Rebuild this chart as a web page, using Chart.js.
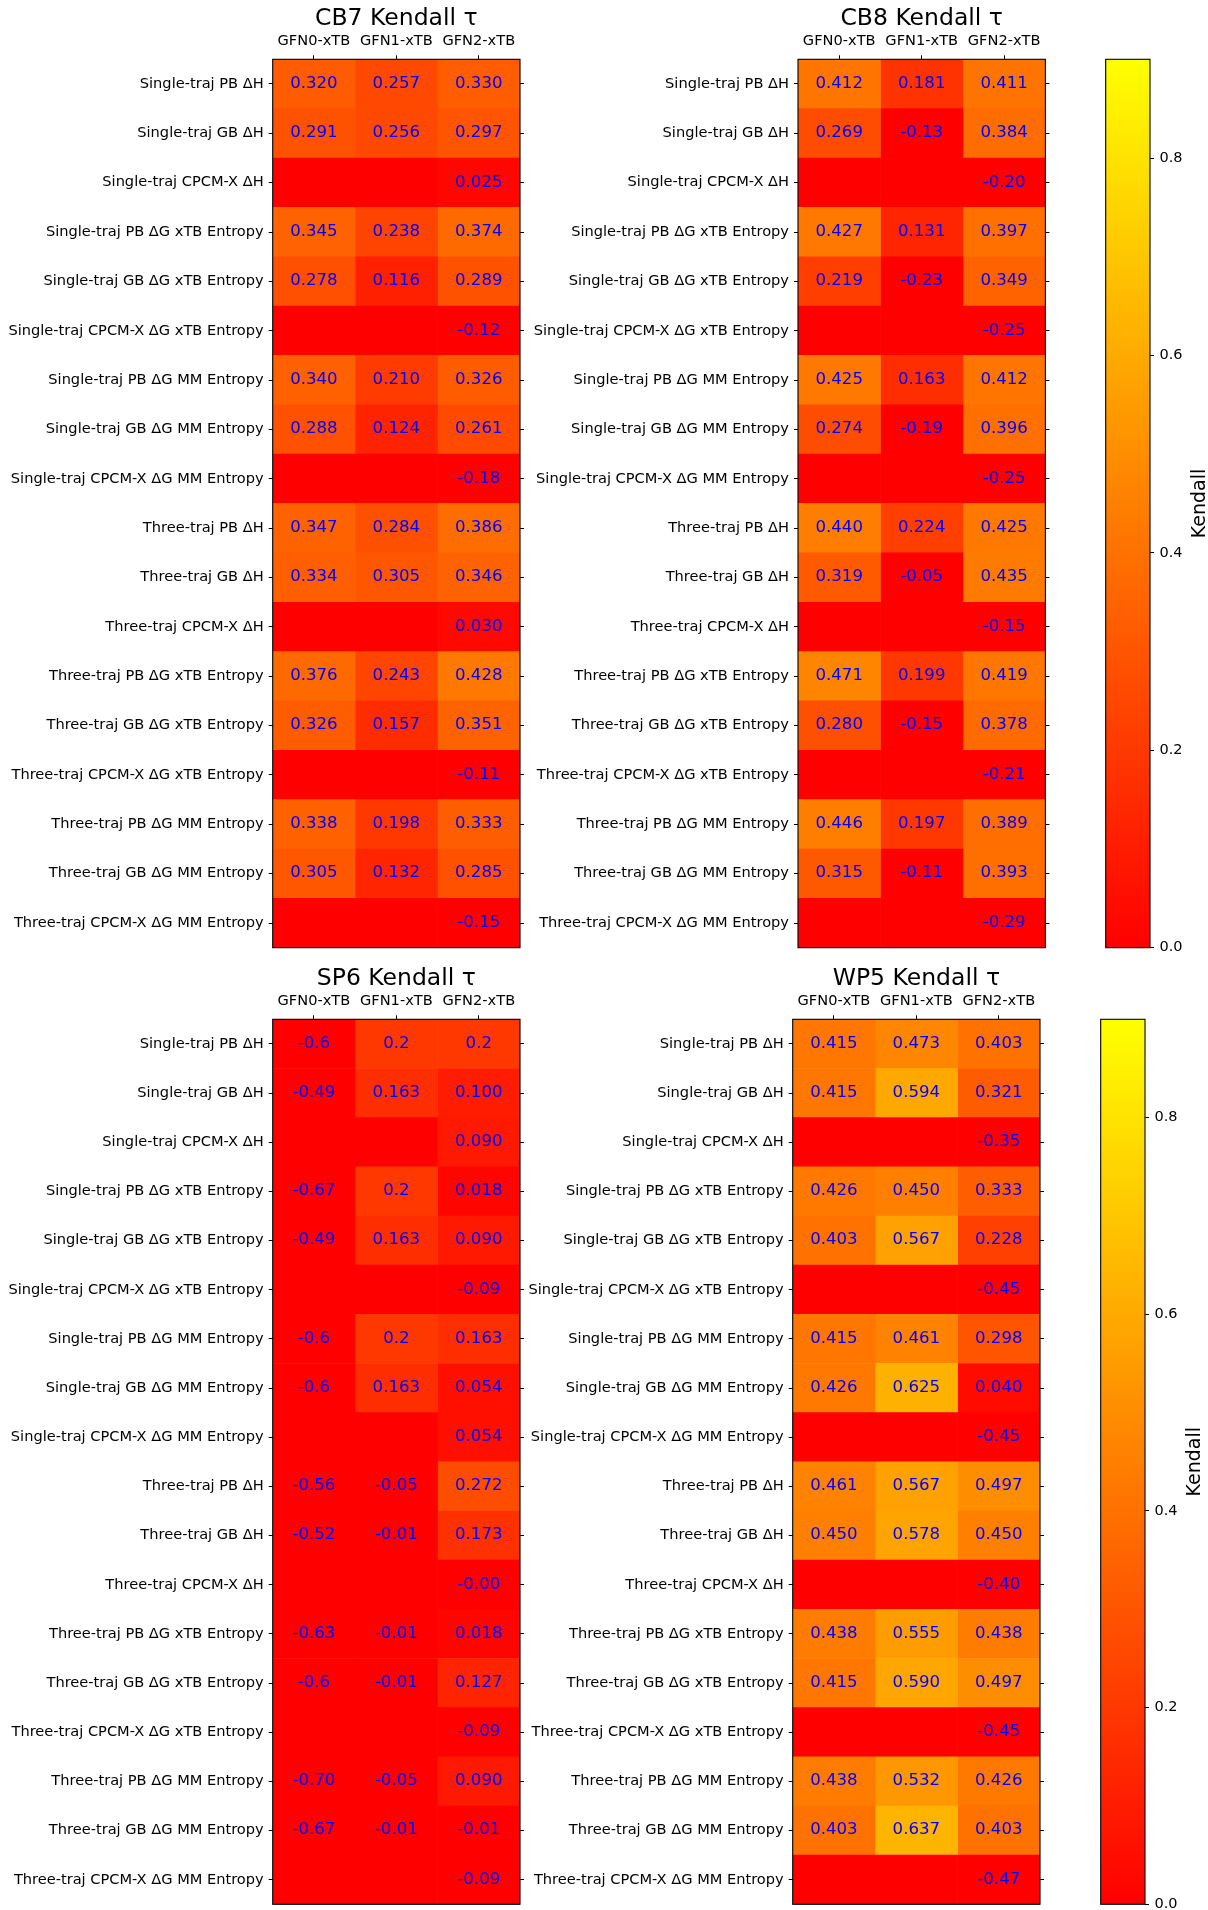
<!DOCTYPE html>
<html>
<head>
<meta charset="utf-8">
<script src="https://cdn.jsdelivr.net/npm/chart.js@4.4.1/dist/chart.umd.min.js"></script>
<style>
  html, body { margin: 0; padding: 0; background: #fff; width: 1208px; height: 1910px; overflow: hidden; }
  canvas { position: absolute; }
</style>
</head>
<body>
<canvas id="cb7" width="530" height="955" style="left:0px;top:0px"></canvas>
<canvas id="cb8" width="545" height="955" style="left:515px;top:0px"></canvas>
<canvas id="cbarTop" width="148" height="955" style="left:1060px;top:0px"></canvas>
<canvas id="sp6" width="530" height="955" style="left:0px;top:955px"></canvas>
<canvas id="wp5" width="545" height="955" style="left:515px;top:955px"></canvas>
<canvas id="cbarBottom" width="148" height="955" style="left:1060px;top:955px"></canvas>
<script>
// Row and column categories shared by all four hosts
const rowLabels = [
  'Single-traj PB ΔH',
  'Single-traj GB ΔH',
  'Single-traj CPCM-X ΔH',
  'Single-traj PB ΔG xTB Entropy',
  'Single-traj GB ΔG xTB Entropy',
  'Single-traj CPCM-X ΔG xTB Entropy',
  'Single-traj PB ΔG MM Entropy',
  'Single-traj GB ΔG MM Entropy',
  'Single-traj CPCM-X ΔG MM Entropy',
  'Three-traj PB ΔH',
  'Three-traj GB ΔH',
  'Three-traj CPCM-X ΔH',
  'Three-traj PB ΔG xTB Entropy',
  'Three-traj GB ΔG xTB Entropy',
  'Three-traj CPCM-X ΔG xTB Entropy',
  'Three-traj PB ΔG MM Entropy',
  'Three-traj GB ΔG MM Entropy',
  'Three-traj CPCM-X ΔG MM Entropy'
];
const methodLabels = ['GFN0-xTB', 'GFN1-xTB', 'GFN2-xTB'];

// Colour scale range and colorbar ticks
const colorMin = 0;
const colorMax = 0.9;
const colorbarTicks = [0, 0.2, 0.4, 0.6, 0.8];

// Kendall tau per host, one array per xTB method (null = not computed)
const cb7GFN0 = [0.3203, 0.291, null, 0.345, 0.278, null, 0.3402, 0.288, null, 0.347, 0.334, null, 0.376, 0.326, null, 0.338, 0.305, null];
const cb7GFN1 = [0.257, 0.256, null, 0.238, 0.116, null, 0.2104, 0.124, null, 0.284, 0.305, null, 0.243, 0.157, null, 0.198, 0.132, null];
const cb7GFN2 = [0.3301, 0.297, 0.025, 0.374, 0.289, -0.12, 0.326, 0.261, -0.18, 0.386, 0.346, 0.0303, 0.428, 0.351, -0.11, 0.333, 0.285, -0.15];

const cb8GFN0 = [0.412, 0.269, null, 0.427, 0.219, null, 0.425, 0.274, null, 0.4402, 0.319, null, 0.471, 0.2803, null, 0.446, 0.315, null];
const cb8GFN1 = [0.181, -0.13, null, 0.131, -0.23, null, 0.163, -0.19, null, 0.224, -0.05, null, 0.199, -0.15, null, 0.197, -0.11, null];
const cb8GFN2 = [0.411, 0.384, -0.2014, 0.397, 0.349, -0.25, 0.412, 0.396, -0.25, 0.425, 0.435, -0.15, 0.419, 0.378, -0.21, 0.389, 0.393, -0.29];

const sp6GFN0 = [-0.6, -0.49, null, -0.67, -0.49, null, -0.6, -0.6, null, -0.56, -0.52, null, -0.63, -0.6, null, -0.7032, -0.67, null];
const sp6GFN1 = [0.2, 0.163, null, 0.2, 0.163, null, 0.2, 0.163, null, -0.05, -0.01, null, -0.01, -0.01, null, -0.05, -0.01, null];
const sp6GFN2 = [0.2, 0.1004, 0.0904, 0.018, 0.0904, -0.09, 0.163, 0.054, 0.054, 0.272, 0.173, -0.0036, 0.018, 0.127, -0.09, 0.0904, -0.01, -0.09];

const wp5GFN0 = [0.415, 0.415, null, 0.426, 0.403, null, 0.415, 0.426, null, 0.461, 0.4502, null, 0.438, 0.415, null, 0.438, 0.403, null];
const wp5GFN1 = [0.473, 0.594, null, 0.4502, 0.567, null, 0.461, 0.625, null, 0.567, 0.578, null, 0.555, 0.5902, null, 0.532, 0.637, null];
const wp5GFN2 = [0.403, 0.321, -0.35, 0.333, 0.228, -0.45, 0.298, 0.0404, -0.45, 0.497, 0.4502, -0.4026, 0.438, 0.497, -0.45, 0.426, 0.403, -0.47];

const FONT = 'DejaVu Sans';

// matplotlib "autumn": red -> yellow, green channel rises linearly
function autumn(v) {
  if (v === null || v === undefined) v = colorMin;
  let t = (v - colorMin) / (colorMax - colorMin);
  t = Math.max(0, Math.min(1, t));
  const g = Math.min(255, Math.floor(t * 256));
  return `rgb(255,${g},0)`;
}

// cell annotation: first five characters of the number
function fmt(v) {
  return String(v).slice(0, 5);
}

const heatDecor = {
  id: 'heatDecor',
  afterDatasetsDraw(chart, args, opts) {
    const { ctx, chartArea: a } = chart;
    ctx.save();
    ctx.font = `16.6px "${FONT}"`;
    ctx.fillStyle = '#0000ff';
    ctx.textAlign = 'center';
    ctx.textBaseline = 'middle';
    chart.data.datasets.forEach((ds, di) => {
      const meta = chart.getDatasetMeta(di);
      meta.data.forEach((el, i) => {
        const v = ds.values[i];
        if (v === null || v === undefined) return;
        const p = el.getCenterPoint();
        ctx.fillText(fmt(v), p.x, p.y - 0.5);
      });
    });
    ctx.strokeStyle = '#000';
    ctx.lineWidth = 1.1;
    ctx.strokeRect(a.left, a.top, a.right - a.left, a.bottom - a.top);
    ctx.fillStyle = '#000';
    ctx.font = `23.5px "${FONT}"`;
    ctx.fillText(opts.text, (a.left + a.right) / 2, a.top - opts.titleOffset);
    ctx.restore();
  }
};

const cbarDecor = {
  id: 'cbarDecor',
  afterDatasetsDraw(chart, args, opts) {
    const { ctx, chartArea: a } = chart;
    ctx.save();
    ctx.strokeStyle = '#000';
    ctx.lineWidth = 1.1;
    ctx.strokeRect(a.left, a.top, a.right - a.left, a.bottom - a.top);
    ctx.translate(a.right + opts.offset, (a.top + a.bottom) / 2);
    ctx.rotate(-Math.PI / 2);
    ctx.fillStyle = '#000';
    ctx.font = `19px "${FONT}"`;
    ctx.textAlign = 'center';
    ctx.textBaseline = 'middle';
    ctx.fillText(opts.text, 0, 0);
    ctx.restore();
  }
};

function heatmap(id, title, columns, g) {
  const datasets = columns.map((vals, c) => ({
    data: vals.map(() => [c, c + 1]),
    values: vals,
    backgroundColor: vals.map(autumn),
    borderWidth: 0,
    barPercentage: 1,
    categoryPercentage: 1,
    grouped: false
  }));
  const tickGrid = { drawOnChartArea: false, tickLength: 4, color: '#000', lineWidth: 1 };
  new Chart(document.getElementById(id), {
    type: 'bar',
    data: { labels: rowLabels, datasets },
    options: {
      indexAxis: 'y',
      responsive: false,
      animation: false,
      events: [],
      layout: { padding: { left: 0, top: 0, right: 0, bottom: g.bottom } },
      plugins: {
        legend: { display: false },
        tooltip: { enabled: false },
        heatDecor: { text: title, titleOffset: 40 }
      },
      scales: {
        x: {
          type: 'linear', position: 'top', min: 0, max: methodLabels.length,
          afterBuildTicks: s => { s.ticks = methodLabels.map((_, i) => ({ value: i + 0.5 })); },
          afterFit: s => { s.height = g.top; s.paddingLeft = 0; s.paddingRight = 0; },
          ticks: {
            callback: (v, i) => methodLabels[i],
            color: '#000', font: { family: FONT, size: 14.6 }, padding: 5,
            maxRotation: 0, autoSkip: false
          },
          grid: tickGrid,
          border: { display: false }
        },
        y: {
          type: 'category', position: 'left', offset: true,
          afterFit: s => { s.width = g.left; s.paddingTop = 0; s.paddingBottom = 0; },
          ticks: { color: '#000', font: { family: FONT, size: 14.6 }, padding: 5, autoSkip: false },
          grid: Object.assign({ offset: false }, tickGrid),
          border: { display: false }
        },
        y2: {
          type: 'category', position: 'right', offset: true, labels: rowLabels,
          afterFit: s => { s.width = g.right; s.paddingTop = 0; s.paddingBottom = 0; },
          ticks: { display: false, autoSkip: false },
          grid: Object.assign({ offset: false }, tickGrid),
          border: { display: false }
        }
      }
    },
    plugins: [heatDecor]
  });
}

function colorbar(id, g) {
  new Chart(document.getElementById(id), {
    type: 'bar',
    data: {
      labels: ['Kendall'],
      datasets: [{
        data: [[colorMin, colorMax]],
        backgroundColor: c => {
          const a = c.chart.chartArea;
          if (!a) return autumn(colorMin);
          const grad = c.chart.ctx.createLinearGradient(0, a.bottom, 0, a.top);
          grad.addColorStop(0, autumn(colorMin));
          grad.addColorStop(1, autumn(colorMax));
          return grad;
        },
        borderWidth: 0,
        barPercentage: 1,
        categoryPercentage: 1
      }]
    },
    options: {
      responsive: false,
      animation: false,
      events: [],
      layout: { padding: { left: g.left, top: g.top, right: 0, bottom: g.bottom } },
      plugins: {
        legend: { display: false },
        tooltip: { enabled: false },
        cbarDecor: { text: 'Kendall', offset: 50 }
      },
      scales: {
        x: { display: false },
        y: {
          type: 'linear', position: 'right', min: colorMin, max: colorMax,
          afterBuildTicks: s => { s.ticks = colorbarTicks.map(v => ({ value: v })); },
          afterFit: s => { s.width = g.axis; s.paddingTop = 0; s.paddingBottom = 0; },
          ticks: {
            callback: v => Number(v).toFixed(1),
            color: '#000', font: { family: FONT, size: 14.5 }, padding: 5.5, autoSkip: false
          },
          grid: { drawOnChartArea: false, tickLength: 4, color: '#000', lineWidth: 1 },
          border: { display: false }
        }
      }
    },
    plugins: [cbarDecor]
  });
}

heatmap('cb7', 'CB7 Kendall τ', [cb7GFN0, cb7GFN1, cb7GFN2], { left: 272.7, top: 59.3, right: 10, bottom: 7.3 });
heatmap('cb8', 'CB8 Kendall τ', [cb8GFN0, cb8GFN1, cb8GFN2], { left: 283, top: 59.3, right: 14.6, bottom: 7.3 });
colorbar('cbarTop', { left: 45.7, top: 59.3, bottom: 7.3, axis: 58 });

heatmap('sp6', 'SP6 Kendall τ', [sp6GFN0, sp6GFN1, sp6GFN2], { left: 272.7, top: 64.3, right: 10, bottom: 5.7 });
heatmap('wp5', 'WP5 Kendall τ', [wp5GFN0, wp5GFN1, wp5GFN2], { left: 277.7, top: 64.3, right: 20, bottom: 5.7 });
colorbar('cbarBottom', { left: 40.7, top: 64.3, bottom: 5.7, axis: 63 });
</script>
</body>
</html>
